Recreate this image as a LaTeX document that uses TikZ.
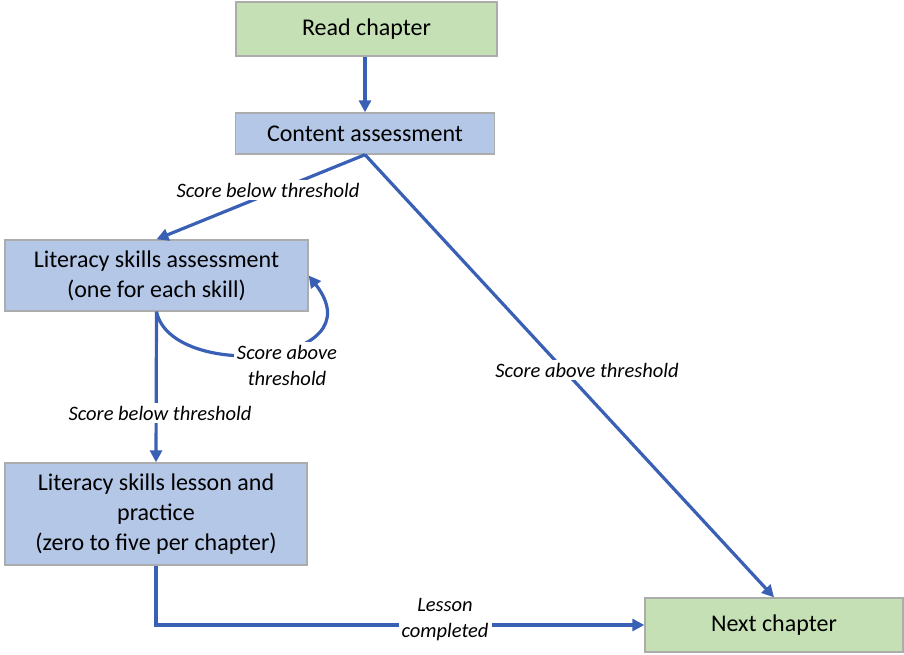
\documentclass[tikz,border=0pt]{standalone}
\usepackage{fontspec}
\setmainfont{Carlito}
\usetikzlibrary{arrows.meta}
\definecolor{boxgreen}{HTML}{C5E0B4}
\definecolor{boxblue}{HTML}{B4C7E7}
\definecolor{linkblue}{HTML}{3A60B6}
\tikzset{box/.style={draw=gray!65, line width=1.4pt, inner sep=2pt, align=center, font=\fontsize{24}{30}\selectfont},
  greenbox/.style={box, fill=boxgreen}, bluebox/.style={box, fill=boxblue},
  conn/.style={draw=linkblue, line width=3.2pt, -{Triangle[length=12pt,width=12pt]}},
  lbl/.style={fill=white, inner sep=3pt, align=center, font=\itshape\fontsize{20.5}{26}\selectfont}}

\begin{document}
\begin{tikzpicture}[x=1pt,y=-1pt]
   \useasboundingbox (0,0) rectangle (904,654);
   \node[greenbox, minimum width=261pt, minimum height=54pt] (read) at (366.5,29) {Read chapter};
   \node[bluebox, minimum width=259pt, minimum height=41pt] (content) at (365,133.5) {Content assessment};
   \node[bluebox, minimum width=303pt, minimum height=71pt] (skills) at (156.5,275.5)
        {Literacy skills assessment\\(one for each skill)};
   \node[bluebox, minimum width=302pt, minimum height=102pt] (lesson) at (156,514)
        {Literacy skills lesson and\\practice\\(zero to five per chapter)};
   \node[greenbox, minimum width=258pt, minimum height=54pt] (next) at (774,625) {Next chapter};

   \draw[conn] (read.south -| content.north) -- (content.north);
   \draw[conn] (content.south) -- (skills.north);
   \draw[conn] (content.south) -- (next.north);
   \draw[conn] (skills.south) -- (lesson.north);
   \draw[conn] (skills.south) .. controls +(15,70) and +(70,90) .. (skills.east);
   \draw[conn] (lesson.south) |- (next.west);

   \node[lbl] (below1) at (268,190) {Score below threshold};
   \node[lbl] (above1) at (587,370) {Score above threshold};
   \node[lbl] (above2) at (287,365) {Score above\\threshold};
   \node[lbl] (below2) at (160,413) {Score below threshold};
   \node[lbl] (done) at (445,620) {Lesson\\completed};
\end{tikzpicture}
\end{document}
